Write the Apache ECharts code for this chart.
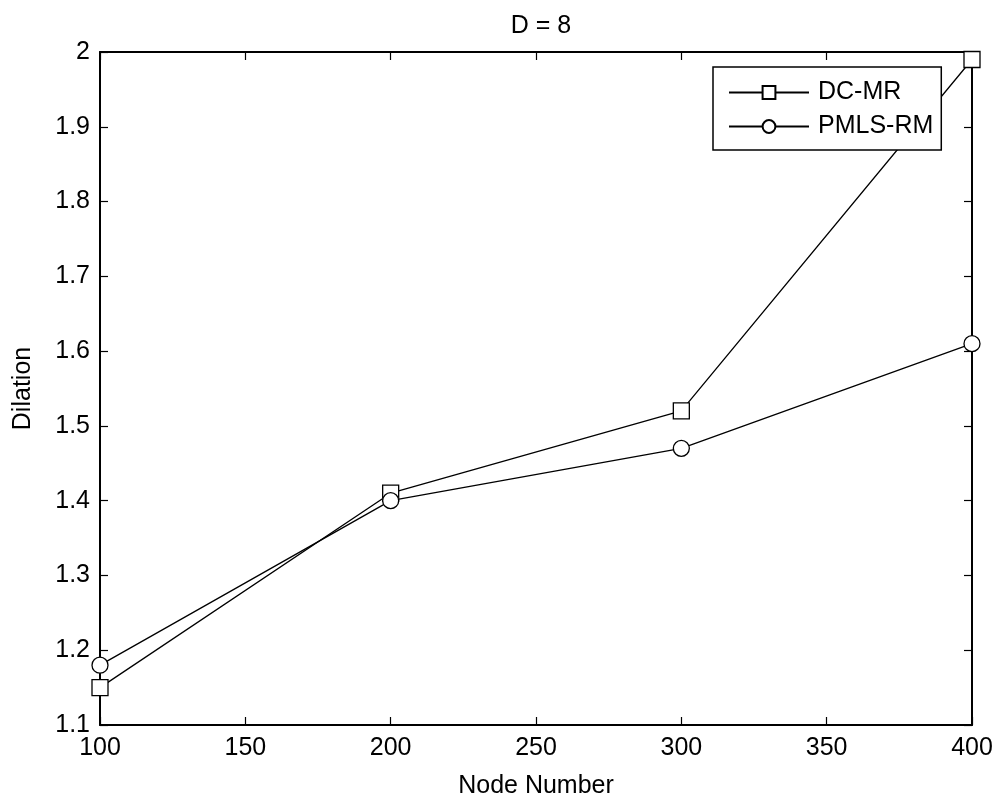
<!DOCTYPE html>
<html>
<head>
<meta charset="utf-8">
<script src="https://cdn.jsdelivr.net/npm/echarts@6/dist/echarts.min.js"></script>
<style>
html,body{margin:0;padding:0;background:#fff;}
#chart{width:996px;height:804px;}
</style>
</head>
<body>
<div id="chart"></div>
<script>
const nodeNumbers = [100, 200, 300, 400];
const dcMR = [1.15, 1.41, 1.52, 1.99];
const pmlsRM = [1.18, 1.40, 1.47, 1.61];
const seriesNames = ['DC-MR', 'PMLS-RM'];
const titleText = 'D = 8';
const xName = 'Node Number';
const yName = 'Dilation';

const FONT = '"Liberation Sans", Arial, sans-serif';
const chart = echarts.init(document.getElementById('chart'), null, {renderer: 'canvas'});

const pair = (xs, ys) => xs.map((x, i) => [x, ys[i]]);
const fmtY = v => String(parseFloat(v.toFixed(1)));

const tickStyle = {show: true, inside: true, length: 8, lineStyle: {color: '#000', width: 1.2}};
const axisLineStyle = {show: true, lineStyle: {color: '#000', width: 2}};

const option = {
  backgroundColor: '#fff',
  animation: false,
  title: {
    text: titleText,
    left: 536, top: 9, textAlign: 'center',
    textStyle: {fontFamily: FONT, fontSize: 25, fontWeight: 'normal', color: '#000'}
  },
  grid: {left: 100, right: 24, top: 52, bottom: 70, containLabel: false},
  legend: {
    orient: 'vertical',
    left: 713, top: 67,
    data: seriesNames,
    itemWidth: 80, itemHeight: 16,
    itemGap: 9,
    padding: [13, 8, 11, 15],
    borderColor: '#000', borderWidth: 1.5, backgroundColor: '#fff',
    textStyle: {fontFamily: FONT, fontSize: 25, color: '#000', padding: [0, 0, 0, 4]}
  },
  xAxis: [{
    type: 'value', min: 100, max: 400, interval: 50,
    name: xName, nameLocation: 'middle', nameGap: 49,
    nameTextStyle: {fontFamily: FONT, fontSize: 25, color: '#000'},
    axisLine: axisLineStyle, axisTick: tickStyle,
    axisLabel: {fontFamily: FONT, fontSize: 25, color: '#000', margin: 11},
    splitLine: {show: false}
  }, {
    type: 'value', min: 100, max: 400, interval: 50, position: 'top',
    axisLine: axisLineStyle, axisTick: tickStyle,
    axisLabel: {show: false}, splitLine: {show: false}
  }],
  yAxis: [{
    type: 'value', min: 1.1, max: 2, interval: 0.1,
    name: yName, nameLocation: 'middle', nameGap: 64, nameRotate: 90,
    nameTextStyle: {fontFamily: FONT, fontSize: 25, color: '#000'},
    axisLine: axisLineStyle, axisTick: tickStyle,
    axisLabel: {fontFamily: FONT, fontSize: 25, color: '#000', margin: 10, formatter: fmtY},
    splitLine: {show: false}
  }, {
    type: 'value', min: 1.1, max: 2, interval: 0.1, position: 'right',
    axisLine: axisLineStyle, axisTick: tickStyle,
    axisLabel: {show: false}, splitLine: {show: false}
  }],
  series: [{
    name: seriesNames[0], type: 'line',
    data: pair(nodeNumbers, dcMR),
    symbol: 'rect', symbolSize: 16,
    showAllSymbol: true,
    lineStyle: {color: '#000', width: 1.3},
    itemStyle: {color: '#fff', borderColor: '#000', borderWidth: 1.3},
    z: 3
  }, {
    name: seriesNames[1], type: 'line',
    data: pair(nodeNumbers, pmlsRM),
    symbol: 'circle', symbolSize: 16,
    showAllSymbol: true,
    lineStyle: {color: '#000', width: 1.3},
    itemStyle: {color: '#fff', borderColor: '#000', borderWidth: 1.3},
    z: 3
  }]
};
chart.setOption(option);
</script>
</body>
</html>
